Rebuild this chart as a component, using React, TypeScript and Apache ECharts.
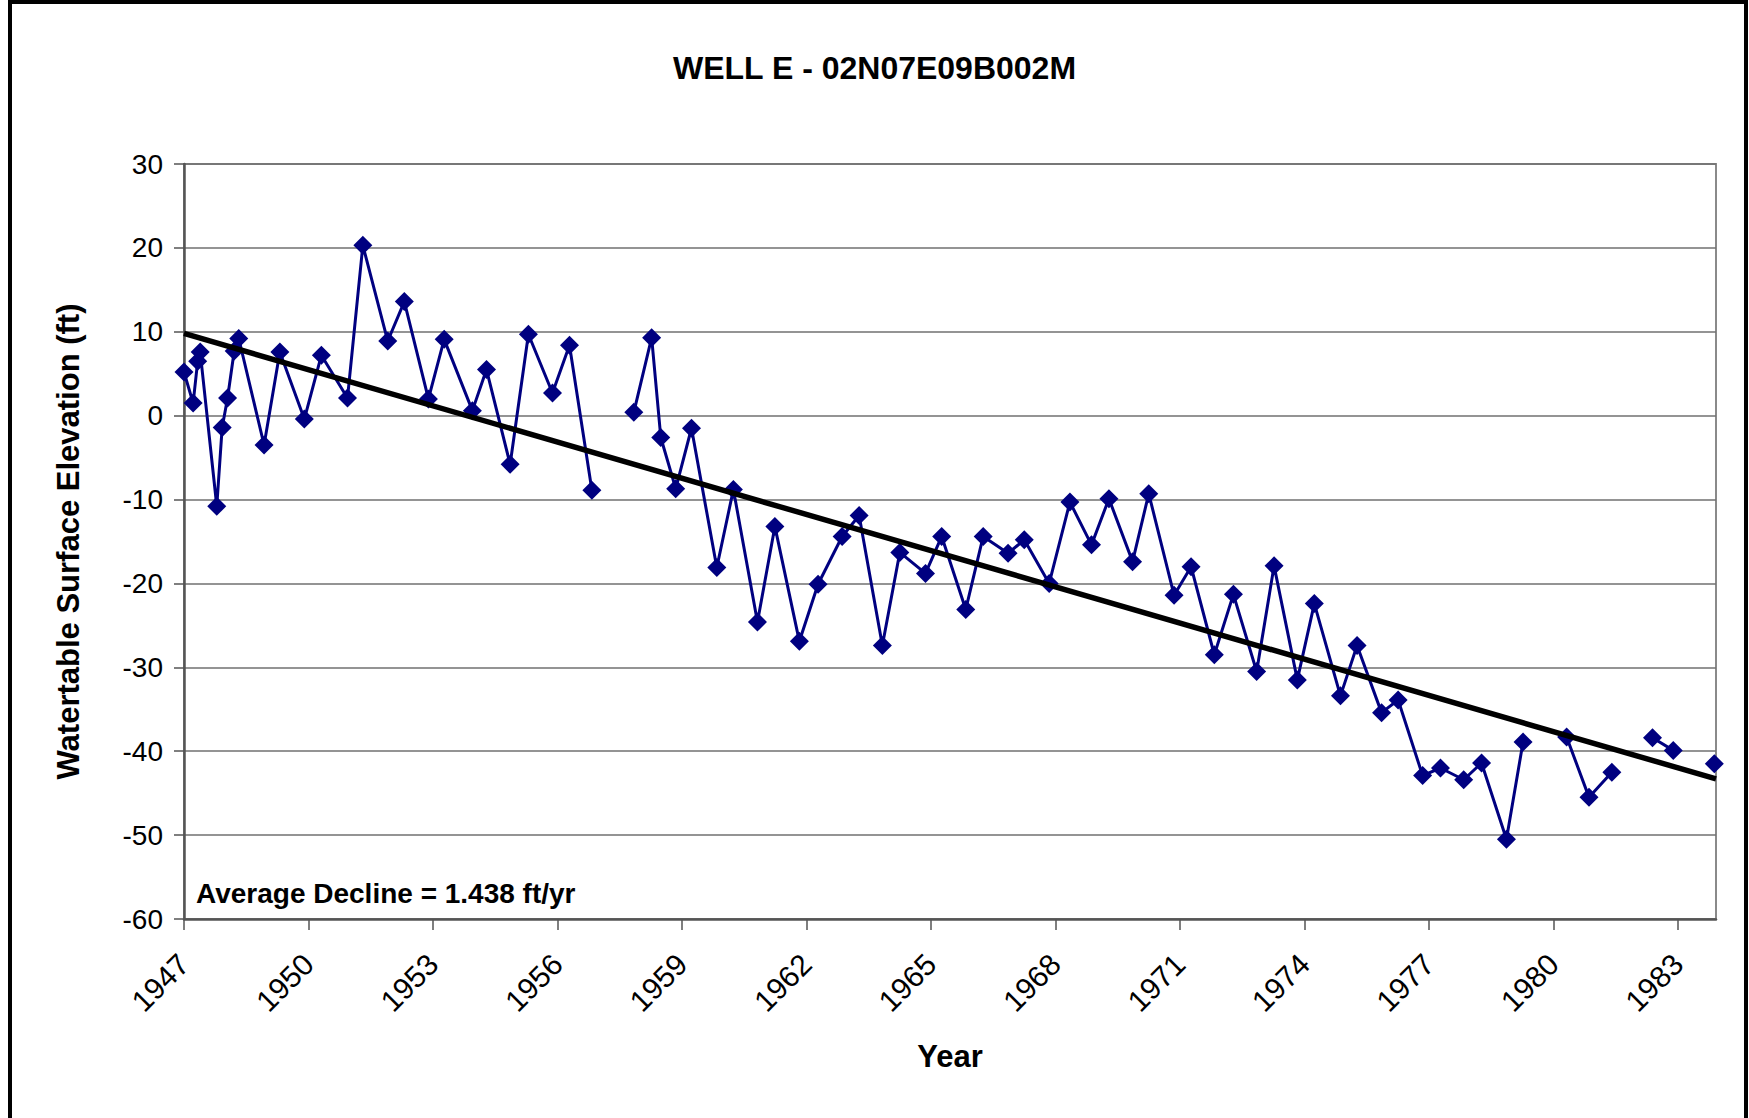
import React, { useEffect, useRef } from "react";
import * as echarts from "echarts";

// ---- data ----
const years: number[] = [
  1947.0, 1947.22, 1947.33, 1947.39, 1947.79, 1947.92, 1948.05, 1948.21, 1948.32, 1948.93,
  1949.31, 1949.9, 1950.31, 1950.94, 1951.31, 1951.91, 1952.31, 1952.89, 1953.27, 1953.95,
  1954.29, 1954.86, 1955.3, 1955.88, 1956.29, 1956.83, 1957.3, 1957.84, 1958.27, 1958.49,
  1958.85, 1959.23, 1959.84, 1960.24, 1960.82, 1961.24, 1961.83, 1962.28, 1962.86, 1963.27,
  1963.83, 1964.25, 1964.87, 1965.26, 1965.84, 1966.26, 1966.86, 1967.25, 1967.85, 1968.35,
  1968.87, 1969.29, 1969.86, 1970.25, 1970.86, 1971.27, 1971.83, 1972.29, 1972.85, 1973.27,
  1973.83, 1974.24, 1974.87, 1975.27, 1975.86, 1976.26, 1976.85, 1977.28, 1977.84, 1978.27,
  1978.87, 1979.27, 1979.8, 1980.32, 1980.86, 1981.41, 1981.9, 1982.39, 1982.89, 1983.4,
  1983.88,
];
// null = gap in the record (line is broken there)
const elevations: (number | null)[] = [
  5.2, 1.5, 6.5, 7.6, -10.8, -1.4, 2.1, 7.7, 9.2, -3.5,
  7.6, -0.4, 7.2, 2.1, 20.3, 8.9, 13.6, 2.0, 9.1, 0.6,
  5.5, -5.8, 9.7, 2.7, 8.4, -8.9, null, 0.4, 9.3, -2.6,
  -8.7, -1.5, -18.1, -8.8, -24.6, -13.2, -26.9, -20.1, -14.4, -11.9,
  -27.4, -16.3, -18.8, -14.4, -23.1, -14.4, -16.4, -14.8, -20.0, -10.3,
  -15.4, -9.9, -17.4, -9.3, -21.4, -18.0, -28.5, -21.3, -30.5, -17.9,
  -31.5, -22.4, -33.4, -27.4, -35.4, -33.9, -42.9, -42.0, -43.4, -41.4,
  -50.5, -38.9, null, -38.3, -45.5, -42.5, null, -38.4, -39.9, null,
  -41.5,
];
// linear trend line end points
const trendYears: number[] = [1947, 1983.92];
const trendValues: number[] = [9.8, -43.3];

const xTickYears: number[] = [1947, 1950, 1953, 1956, 1959, 1962, 1965, 1968, 1971, 1974, 1977, 1980, 1983];
const yTicks: number[] = [30, 20, 10, 0, -10, -20, -30, -40, -50, -60];

const titleText = "WELL E - 02N07E09B002M";
const yName = "Watertable Surface Elevation (ft)";
const xName = "Year";
const noteText = "Average Decline = 1.438 ft/yr";

const FONT = "'Liberation Sans', Arial, sans-serif";

export default function App() {
  const ref = useRef<HTMLDivElement>(null);

  useEffect(() => {
    if (!ref.current) return;
    const chart = echarts.init(ref.current, undefined, { renderer: "svg" });

    const wellData = years.map((y, i) => [y, elevations[i] === null ? "-" : elevations[i]]);
    const trendData = trendYears.map((y, i) => [y, trendValues[i]]);

    chart.setOption({
      animation: false,
      backgroundColor: "#ffffff",
      title: {
        text: titleText,
        left: "center",
        top: 47,
        textStyle: { fontFamily: FONT, fontWeight: "bold", fontSize: 32, color: "#000" },
      },
      grid: {
        left: 184,
        right: 33,
        top: 164,
        bottom: 199,
        show: true,
        borderColor: "#8a8a8a",
        borderWidth: 2,
        backgroundColor: "transparent",
      },
      xAxis: {
        type: "value",
        min: 1947,
        max: 1983.92,
        interval: 3,
        name: xName,
        nameLocation: "middle",
        nameGap: 122,
        nameTextStyle: { fontFamily: FONT, fontWeight: "bold", fontSize: 31, color: "#000" },
        axisLine: { show: true, onZero: false, lineStyle: { color: "#555", width: 2.5 } },
        axisTick: { show: true, length: 11, customValues: xTickYears, lineStyle: { color: "#555", width: 1.5 } },
        axisLabel: {
          customValues: xTickYears,
          rotate: 45,
          margin: 40,
          fontFamily: FONT,
          fontSize: 30,
          color: "#000",
          formatter: (v: number) => String(Math.round(v)),
        },
        splitLine: { show: false },
      },
      yAxis: {
        type: "value",
        min: -60,
        max: 30,
        interval: 10,
        name: yName,
        nameLocation: "middle",
        nameGap: 100,
        nameRotate: 90,
        nameTextStyle: { fontFamily: FONT, fontWeight: "bold", fontSize: 31, color: "#000" },
        axisLine: { show: true, lineStyle: { color: "#555", width: 2.5 } },
        axisTick: { show: true, length: 10, lineStyle: { color: "#555", width: 1.5 } },
        axisLabel: {
          margin: 21,
          fontFamily: FONT,
          fontSize: 28,
          color: "#000",
          formatter: (v: number) => (yTicks.includes(v) ? String(v) : ""),
        },
        splitLine: { show: true, lineStyle: { color: "#707070", width: 1.5 } },
      },
      graphic: [
        {
          type: "rect",
          shape: { x: 10, y: 2, width: 1736, height: 1140 },
          style: { fill: "none", stroke: "#000", lineWidth: 4 },
          silent: true,
        },
        {
          type: "text",
          x: 196,
          y: 893,
          style: {
            text: noteText,
            fontFamily: FONT,
            fontWeight: "bold",
            fontSize: 28,
            fill: "#000",
            textVerticalAlign: "middle",
            textAlign: "left",
          },
          z: 100,
        },
      ],
      series: [
        {
          name: "Well E",
          type: "line",
          data: wellData,
          connectNulls: false,
          symbol: "diamond",
          symbolSize: 19,
          showAllSymbol: true,
          lineStyle: { color: "#000080", width: 3 },
          itemStyle: { color: "#000080", borderWidth: 0 },
          z: 2,
        },
        {
          name: "Trend",
          type: "line",
          data: trendData,
          symbol: "none",
          lineStyle: { color: "#000", width: 5.5 },
          z: 3,
        },
      ],
    });

    return () => chart.dispose();
  }, []);

  return (
    <div
      ref={ref}
      style={{ position: "fixed", left: 0, top: 0, width: 1749, height: 1118, background: "#fff" }}
    />
  );
}
